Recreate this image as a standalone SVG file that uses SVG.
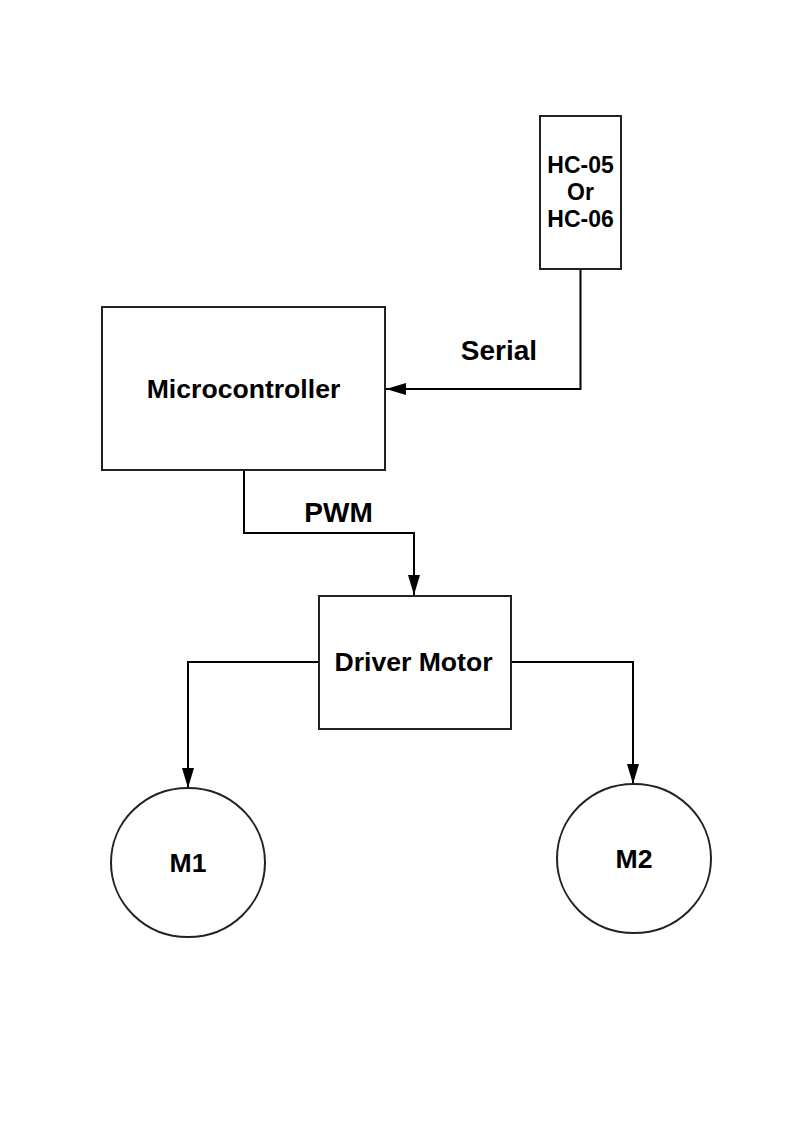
<svg xmlns="http://www.w3.org/2000/svg" width="794" height="1123" viewBox="0 0 794 1123">
<defs>
<marker id="arr" markerWidth="20" markerHeight="12" refX="20" refY="6" orient="auto" markerUnits="userSpaceOnUse">
<path d="M0,0 L20,6 L0,12 Z" fill="#000"/>
</marker>
<style>
.box{fill:#fff;stroke:#222;stroke-width:2}
.con{fill:none;stroke:#000;stroke-width:2;marker-end:url(#arr)}
text{font-family:"Liberation Sans",Arial,sans-serif;font-weight:bold;fill:#000;text-anchor:middle}
.n{font-size:26.6px}
.l{font-size:28px}
.s{font-size:23px}
</style>
</defs>
<rect width="794" height="1123" fill="#fff"/>
<g id="connectors">
<path class="con" d="M580.5,269 L580.5,389 L386,389"/>
<path class="con" d="M244,470 L244,533 L414,533 L414,595"/>
<path class="con" d="M319,662 L188,662 L188,788"/>
<path class="con" d="M511,662 L633,662 L633,784"/>
<text class="l" x="499" y="360">Serial</text>
<text class="l" x="338.5" y="522">PWM</text>
</g>
<g id="hc">
<rect class="box" x="540" y="116" width="81" height="153"/>
<text class="s" x="580.5" y="173">HC-05</text>
<text class="s" x="580.5" y="200">Or</text>
<text class="s" x="580.5" y="227">HC-06</text>
</g>
<g id="microcontroller">
<rect class="box" x="102" y="307" width="283" height="163"/>
<text class="n" x="243.5" y="398">Microcontroller</text>
</g>
<g id="driver">
<rect class="box" x="319" y="596" width="192" height="133"/>
<text class="n" x="413.5" y="671">Driver Motor</text>
</g>
<g id="m1">
<ellipse class="box" cx="188" cy="862.5" rx="77" ry="74.5"/>
<text class="n" x="188" y="872">M1</text>
</g>
<g id="m2">
<ellipse class="box" cx="634" cy="858.5" rx="77" ry="74.5"/>
<text class="n" x="634" y="868">M2</text>
</g>
</svg>
